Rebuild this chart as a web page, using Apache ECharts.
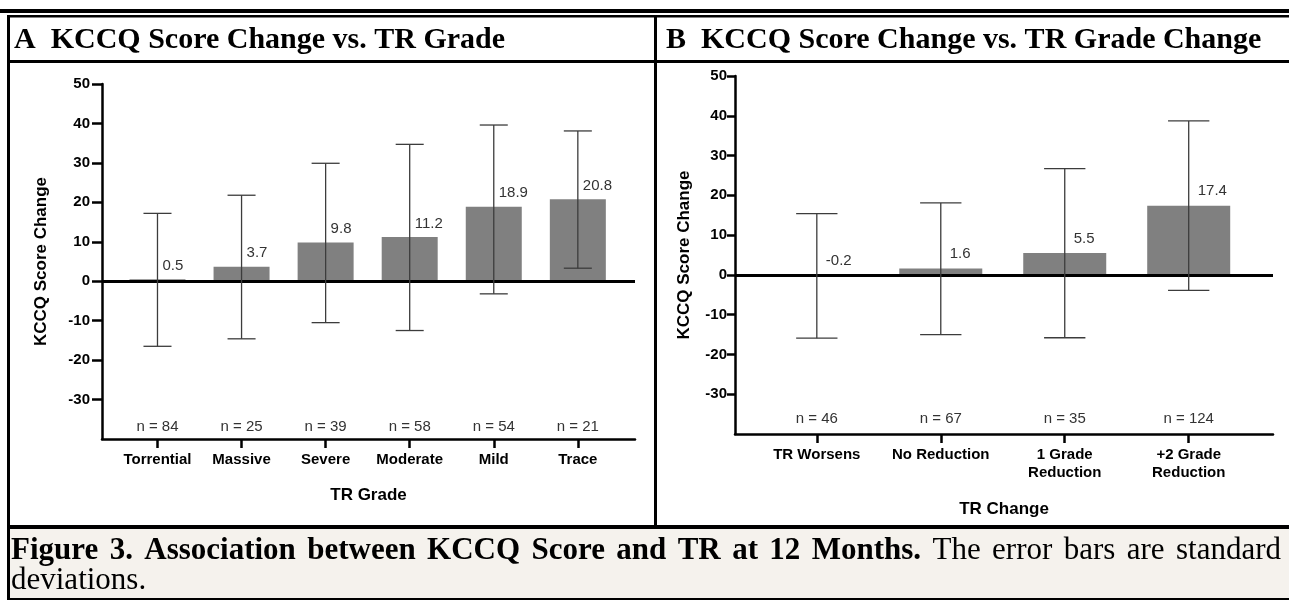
<!DOCTYPE html>
<html>
<head>
<meta charset="utf-8">
<script src="https://cdn.jsdelivr.net/npm/echarts@6/dist/echarts.min.js"></script>
<style>
  html, body { margin: 0; padding: 0; background: #ffffff; }
  #chart { width: 1289px; height: 603px; }
</style>
</head>
<body>
<div id="chart"></div>
<script>
// ---------------- data ----------------
const catsA = ['Torrential', 'Massive', 'Severe', 'Moderate', 'Mild', 'Trace'];
const meanA = [0.5, 3.7, 9.8, 11.2, 18.9, 20.8];
const lowA  = [-16.5, -14.6, -10.5, -12.5, -3.2, 3.3];
const highA = [17.2, 21.8, 29.9, 34.7, 39.6, 38.1];
const nA    = [84, 25, 39, 58, 54, 21];

const catsB = ['TR Worsens', 'No Reduction', '1 Grade\nReduction', '+2 Grade\nReduction'];
const meanB = [-0.2, 1.6, 5.5, 17.4];
const lowB  = [-15.9, -15.0, -15.8, -3.9];
const highB = [15.4, 18.1, 26.7, 38.7];
const nB    = [46, 67, 35, 124];

const yTicks = [-30, -20, -10, 0, 10, 20, 30, 40, 50];

const titleA = 'A  KCCQ Score Change vs. TR Grade';
const titleB = 'B  KCCQ Score Change vs. TR Grade Change';
const captionBold = 'Figure 3. Association between KCCQ Score and TR at 12 Months.';
const captionRest = 'The error bars are standard';
const captionLine2 = 'deviations.';

// ---------------- helpers ----------------
const SANS = '"Liberation Sans", Arial, sans-serif';
const SERIF = '"Liberation Serif", "Times New Roman", serif';
const CAP_SIZE = 31;

function idx(n) { return Array.from({length: n}, (_, i) => i); }

// justified caption line: words spread between x0 and x1
function justified(parts, x0, x1, y, size) {
  const cv = document.createElement('canvas').getContext('2d');
  const words = [];
  parts.forEach(p => p.text.split(' ').forEach(w => {
    const font = p.weight + ' ' + size + 'px ' + SERIF;
    cv.font = font;
    words.push({ w, font, width: cv.measureText(w).width });
  }));
  const total = words.reduce((s, o) => s + o.width, 0);
  const gap = (x1 - x0 - total) / (words.length - 1);
  let x = x0;
  return words.map(o => {
    const el = { type: 'text', x: x, y: y, style: { text: o.w, fill: '#000', font: o.font, verticalAlign: 'middle' } };
    x += o.width + gap;
    return el;
  });
}

function makeErrRender(opt) {
  return function (params, api) {
    const x = api.value(0), lo = api.value(1), hi = api.value(2), m = api.value(3), n = api.value(4);
    const pTop = api.coord([x, hi]);
    const pBot = api.coord([x, lo]);
    const unit = api.size([1, 0])[0];
    const half = unit / 6;
    const lab = api.coord([x, Math.max(m, 0)]);
    const nPos = api.coord([x, opt.nY]);
    const ls = { stroke: '#3c3c3c', lineWidth: 1.3 };
    return {
      type: 'group',
      children: [
        { type: 'line', shape: { x1: pTop[0], y1: pTop[1], x2: pBot[0], y2: pBot[1] }, style: ls },
        { type: 'line', shape: { x1: pTop[0] - half, y1: pTop[1], x2: pTop[0] + half, y2: pTop[1] }, style: ls },
        { type: 'line', shape: { x1: pBot[0] - half, y1: pBot[1], x2: pBot[0] + half, y2: pBot[1] }, style: ls },
        { type: 'text', x: lab[0] + opt.dx, y: lab[1] - opt.dy,
          style: { text: m.toFixed(1), fill: '#333', font: 'normal 15px ' + SANS, align: 'left', verticalAlign: 'bottom' } },
        { type: 'text', x: nPos[0], y: nPos[1],
          style: { text: 'n = ' + n, fill: '#333', font: 'normal 15px ' + SANS, align: 'center', verticalAlign: 'middle' } }
      ]
    };
  };
}

function xAxisCfg(grid, cats, name, nameGap, tickLen) {
  const vals = idx(cats.length);
  return {
    gridIndex: grid, type: 'value', min: -0.66, max: cats.length - 1 + 0.68,
    splitLine: { show: false },
    axisLine: { show: true, onZero: false, lineStyle: { color: '#000', width: 2.5 } },
    axisTick: { show: true, customValues: vals, length: tickLen, lineStyle: { color: '#000', width: 2.5 } },
    axisLabel: { customValues: vals, formatter: v => cats[Math.round(v)], color: '#000',
      fontFamily: SANS, fontWeight: 'bold', fontSize: 15, lineHeight: 18, margin: 12 },
    name: name, nameLocation: 'middle', nameGap: nameGap,
    nameTextStyle: { color: '#000', fontFamily: SANS, fontWeight: 'bold', fontSize: 17 }
  };
}

function yAxisCfg(grid, nameGap, tickLen, margin) {
  return {
    gridIndex: grid, type: 'value', min: -40, max: 50,
    splitLine: { show: false },
    axisLine: { show: true, onZero: false, lineStyle: { color: '#000', width: 2.5 } },
    axisTick: { show: true, customValues: yTicks, length: tickLen, lineStyle: { color: '#000', width: 2.5 } },
    axisLabel: { customValues: yTicks, color: '#000', fontFamily: SANS, fontWeight: 'bold', fontSize: 15, margin: margin },
    name: 'KCCQ Score Change', nameLocation: 'middle', nameGap: nameGap, nameRotate: 90,
    nameTextStyle: { color: '#000', fontFamily: SANS, fontWeight: 'bold', fontSize: 17 }
  };
}

function zeroLine() {
  return {
    silent: true, symbol: 'none', label: { show: false },
    lineStyle: { color: '#000', width: 3, type: 'solid' },
    data: [{ yAxis: 0 }]
  };
}

// ---------------- frame graphics ----------------
const black = { fill: '#000' };
const frame = [
  { type: 'rect', shape: { x: 10, y: 529, width: 1279, height: 69 }, style: { fill: '#f5f2ed' }, z: 0 },
  { type: 'rect', shape: { x: 0, y: 9, width: 1289, height: 4 }, style: black },
  { type: 'rect', shape: { x: 7, y: 15, width: 1282, height: 2.5 }, style: black },
  { type: 'rect', shape: { x: 7, y: 15, width: 3, height: 585 }, style: black },
  { type: 'rect', shape: { x: 7, y: 60, width: 1282, height: 3 }, style: black },
  { type: 'rect', shape: { x: 654, y: 15, width: 3, height: 513 }, style: black },
  { type: 'rect', shape: { x: 7, y: 525, width: 1282, height: 4 }, style: black },
  { type: 'rect', shape: { x: 7, y: 598, width: 1282, height: 2 }, style: black },
  { type: 'text', x: 14, y: 40, style: { text: titleA, fill: '#000', font: 'bold 30px ' + SERIF, verticalAlign: 'middle' } },
  { type: 'text', x: 666, y: 40, style: { text: titleB, fill: '#000', font: 'bold 30px ' + SERIF, verticalAlign: 'middle' } },
  { type: 'text', x: 11, y: 581, style: { text: captionLine2, fill: '#000', font: 'normal ' + CAP_SIZE + 'px ' + SERIF, verticalAlign: 'middle' } }
].concat(justified([{ text: captionBold, weight: 'bold' }, { text: captionRest, weight: 'normal' }], 11, 1281, 551, CAP_SIZE));

// ---------------- chart ----------------
const chart = echarts.init(document.getElementById('chart'), null, { renderer: 'canvas' });
chart.setOption({
  backgroundColor: '#ffffff',
  animation: false,
  graphic: frame,
  grid: [
    { left: 102, top: 84, width: 533, height: 355 },
    { left: 735, top: 76, width: 538, height: 358 }
  ],
  xAxis: [
    xAxisCfg(0, catsA, 'TR Grade', 48, 9),
    xAxisCfg(1, catsB, 'TR Change', 67, 9)
  ],
  yAxis: [
    yAxisCfg(0, 52, 10, 12),
    yAxisCfg(1, 42, 8, 8)
  ],
  series: [
    { type: 'bar', xAxisIndex: 0, yAxisIndex: 0, barWidth: 56, itemStyle: { color: '#808080' },
      data: catsA.map((c, i) => [i, meanA[i]]), markLine: zeroLine() },
    { type: 'custom', xAxisIndex: 0, yAxisIndex: 0, z: 5,
      renderItem: makeErrRender({ dx: 5, dy: 6, nY: -36.8 }),
      data: catsA.map((c, i) => [i, lowA[i], highA[i], meanA[i], nA[i]]) },
    { type: 'bar', xAxisIndex: 1, yAxisIndex: 1, barWidth: 83, itemStyle: { color: '#808080' },
      data: catsB.map((c, i) => [i, meanB[i]]), markLine: zeroLine() },
    { type: 'custom', xAxisIndex: 1, yAxisIndex: 1, z: 5,
      renderItem: makeErrRender({ dx: 9, dy: 7, nY: -36.2 }),
      data: catsB.map((c, i) => [i, lowB[i], highB[i], meanB[i], nB[i]]) }
  ]
});
</script>
</body>
</html>
